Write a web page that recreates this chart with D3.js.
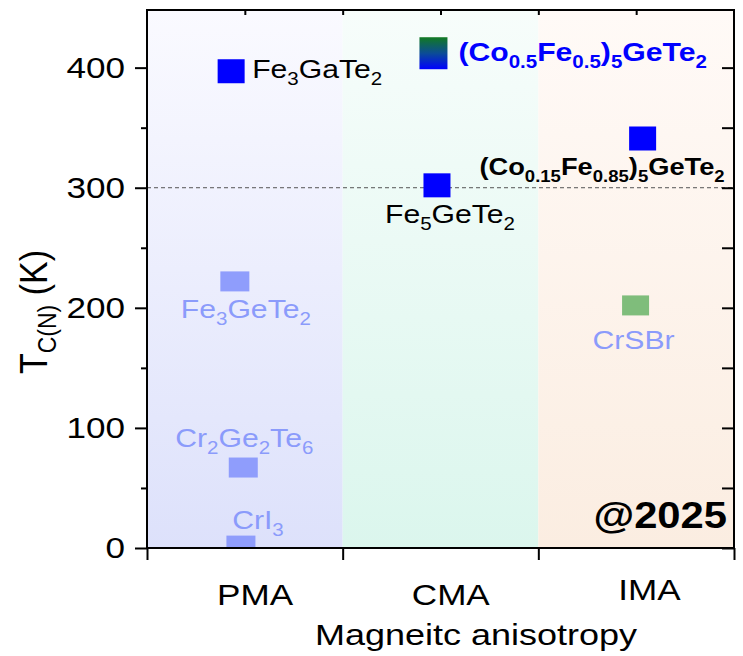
<!DOCTYPE html>
<meta charset="utf-8">
<style>
    body {
        margin: 0;
        background: #fff;
    }
    svg text {
        font-family: Arial, "Liberation Sans", sans-serif;
    }
</style>

<body>
    <script src="https://cdn.jsdelivr.net/npm/d3@7"></script>
    <script>
        // data
        var categories = ["PMA", "CMA", "IMA"];
        var materials = ["Fe_3GaTe_2", "(Co_{0.5}Fe_{0.5})_5GeTe_2", "Fe_5GeTe_2", "(Co_{0.15}Fe_{0.85})_5GeTe_2",
            "Fe_3GeTe_2", "Cr_2Ge_2Te_6", "CrI_3", "CrSBr"];
        // x on a numeric axis where PMA = [0,1], CMA = [1,2], IMA = [2,3]
        var xValues = [0.43, 1.464, 1.482, 2.533, 0.449, 0.492, 0.48, 2.497];
        var tcValues = [397, 412, 302, 341, 222, 67, 2, 202];
        var markerKind = ["strong", "grad", "strong", "strong", "faint", "faint", "faint", "green"];
        var yMajor = [0, 100, 200, 300, 400];
        var yMinor = [50, 150, 250, 350];
        var roomTemp = 300;

        // annotation layout (pixel offsets from the marker centre)
        var labelLayout = [
            { dx: 21, dy: 7, anchor: "start", style: "black" },
            { dx: 25, dy: 8, anchor: "start", style: "blueBold" },
            { dx: 13, dy: 38, anchor: "middle", style: "black" },
            { dx: 82, dy: 37, anchor: "end", style: "blackBold" },
            { dx: 11, dy: 37, anchor: "middle", style: "faint" },
            { dx: 1, dy: -21, anchor: "middle", style: "faint" },
            { dx: 17, dy: -17, anchor: "middle", style: "faint" },
            { dx: -2, dy: 44, anchor: "middle", style: "faint" }
        ];
        var labelStyles = {
            black: { size: 26, weight: "normal", color: "#000" },
            blueBold: { size: 26, weight: "bold", color: "#0000ff" },
            blackBold: { size: 23.5, weight: "bold", color: "#000" },
            faint: { size: 26, weight: "normal", color: "#8b9bfb" }
        };
        var markerStyles = {
            strong: { w: 27, h: 24, fill: "#0000ff" },
            grad: { w: 28, h: 32, fill: "url(#markGrad)" },
            faint: { w: 29, h: 20, fill: "#8f9dfc" },
            green: { w: 27, h: 20, fill: "#7fbd7b" }
        };
        var regionTop = ["#fafaff", "#f7fdfb", "#fffaf7"];
        var regionBottom = ["#dde1fb", "#dbf6ed", "#fbede1"];

        var width = 743,
            height = 656,
            margin = { top: 10, right: 9, bottom: 108, left: 147 },
            STRETCH = 1.16;

        var svg = d3.select("body").append("svg")
            .attr("width", width)
            .attr("height", height);

        var x = d3.scaleLinear().domain([0, 3]).range([margin.left, width - margin.right]);
        var y = d3.scaleLinear().domain([0, 448]).range([height - margin.bottom, margin.top]);

        var defs = svg.append("defs");
        categories.forEach(function (c, i) {
            var g = defs.append("linearGradient").attr("id", "bg" + i)
                .attr("x1", 0).attr("y1", 0).attr("x2", 0).attr("y2", 1);
            g.append("stop").attr("offset", 0).attr("stop-color", regionTop[i]);
            g.append("stop").attr("offset", 1).attr("stop-color", regionBottom[i]);
        });
        var mg = defs.append("linearGradient").attr("id", "markGrad")
            .attr("x1", 0).attr("y1", 0).attr("x2", 0).attr("y2", 1);
        mg.append("stop").attr("offset", 0).attr("stop-color", "#127a22");
        mg.append("stop").attr("offset", 0.5).attr("stop-color", "#0b4c96");
        mg.append("stop").attr("offset", 1).attr("stop-color", "#0000ff");
        defs.append("clipPath").attr("id", "plotClip").append("rect")
            .attr("x", x(0)).attr("y", y.range()[1])
            .attr("width", x(3) - x(0)).attr("height", y(0) - y.range()[1]);

        // background bands
        svg.append("g").selectAll("rect").data(categories).enter().append("rect")
            .attr("x", function (d, i) { return x(i); })
            .attr("y", y.range()[1])
            .attr("width", x(1) - x(0))
            .attr("height", y(0) - y.range()[1])
            .attr("fill", function (d, i) { return "url(#bg" + i + ")"; });

        // room temperature line
        svg.append("line")
            .attr("x1", x(0)).attr("x2", x(3))
            .attr("y1", y(roomTemp)).attr("y2", y(roomTemp))
            .attr("stroke", "#555").attr("stroke-width", 1)
            .attr("stroke-dasharray", "4,3");

        // text helpers: chemical formulas with "_" subscripts, horizontally stretched like the source
        function parseFormula(s) {
            var parts = [], i = 0, buf = "";
            while (i < s.length) {
                if (s[i] === "_") {
                    if (buf) { parts.push({ t: buf, sub: false }); buf = ""; }
                    if (s[i + 1] === "{") {
                        var j = s.indexOf("}", i);
                        parts.push({ t: s.slice(i + 2, j), sub: true });
                        i = j + 1;
                    } else {
                        parts.push({ t: s[i + 1], sub: true });
                        i += 2;
                    }
                } else {
                    buf += s[i];
                    i++;
                }
            }
            if (buf) parts.push({ t: buf, sub: false });
            return parts;
        }

        function formula(g, px, py, str, o) {
            var t = g.append("text")
                .attr("transform", "translate(" + px + "," + py + ") scale(" + (o.sx || STRETCH) + ",1)")
                .attr("text-anchor", o.anchor || "start")
                .attr("font-size", o.size)
                .attr("font-weight", o.weight || "normal")
                .attr("fill", o.color || "#000");
            var cur = 0;
            parseFormula(str).forEach(function (p) {
                var target = p.sub ? o.size * 0.27 : 0;
                t.append("tspan")
                    .attr("dy", target - cur)
                    .attr("font-size", p.sub ? o.size * 0.68 : o.size)
                    .text(p.t);
                cur = target;
            });
            return t;
        }

        // markers
        var plot = svg.append("g").attr("clip-path", "url(#plotClip)");
        plot.selectAll("rect").data(materials).enter().append("rect")
            .attr("x", function (d, i) { return x(xValues[i]) - markerStyles[markerKind[i]].w / 2; })
            .attr("y", function (d, i) { return y(tcValues[i]) - markerStyles[markerKind[i]].h / 2; })
            .attr("width", function (d, i) { return markerStyles[markerKind[i]].w; })
            .attr("height", function (d, i) { return markerStyles[markerKind[i]].h; })
            .attr("fill", function (d, i) { return markerStyles[markerKind[i]].fill; });

        // labels
        var labels = svg.append("g");
        materials.forEach(function (m, i) {
            var L = labelLayout[i], s = labelStyles[L.style];
            formula(labels, x(xValues[i]) + L.dx, y(tcValues[i]) + L.dy, m,
                { size: s.size, weight: s.weight, color: s.color, anchor: L.anchor });
        });

        formula(svg, 727, 528, "@2025", { size: 36, weight: "bold", anchor: "end" });

        // axes
        var left = svg.append("g").attr("transform", "translate(" + x(0) + ",0)")
            .call(d3.axisLeft(y).tickValues(yMajor).tickSize(12).tickPadding(10));
        left.selectAll("text")
            .attr("font-size", 30).attr("font-family", null).attr("fill", "#000")
            .attr("x", -22 / 1.17)
            .attr("transform", "scale(1.17,1)");
        svg.append("g").attr("transform", "translate(" + x(0) + ",0)")
            .call(d3.axisLeft(y).tickValues(yMinor).tickSize(6).tickFormat(""));
        svg.append("g").attr("transform", "translate(" + x(3) + ",0)")
            .call(d3.axisRight(y).tickValues(yMajor.concat(yMinor)).tickSize(-12).tickFormat(""));
        svg.append("g").attr("transform", "translate(0," + y(0) + ")")
            .call(d3.axisBottom(x).tickValues([0, 1, 2, 3]).tickSize(12).tickFormat(""));
        svg.append("g").attr("transform", "translate(0," + y.range()[1] + ")")
            .call(d3.axisTop(x).tickValues([0.5, 1, 1.5, 2, 2.5]).tickSize(-5).tickFormat(""));

        var cat = svg.append("g").attr("transform", "translate(0," + y(0) + ")")
            .call(d3.axisBottom(x).tickValues([0.55, 1.55, 2.55]).tickSize(0).tickPadding(36)
                .tickFormat(function (d, i) { return categories[i]; }));
        cat.select(".domain").remove();
        cat.selectAll("text")
            .attr("font-size", 30).attr("font-family", null).attr("fill", "#000")
            .attr("transform", function (d, i) { return (i === 2 ? "translate(3,-5) " : "") + "scale(1.17,1)"; });

        svg.selectAll(".domain").attr("stroke", "none");
        svg.selectAll(".tick line").attr("stroke", "#000").attr("stroke-width", 2);

        // frame
        svg.append("rect")
            .attr("x", x(0)).attr("y", y.range()[1])
            .attr("width", x(3) - x(0)).attr("height", y(0) - y.range()[1])
            .attr("fill", "none").attr("stroke", "#000").attr("stroke-width", 2);

        // axis titles
        formula(svg, 476, 645, "Magneitc anisotropy", { size: 30, anchor: "middle", sx: 1.2 });

        var yt = svg.append("text")
            .attr("transform", "translate(47,312) rotate(-90) scale(1,1.15)")
            .attr("text-anchor", "middle")
            .attr("font-size", 34);
        yt.append("tspan").text("T");
        yt.append("tspan").attr("dy", 8).attr("font-size", 23).text("C(N)");
        yt.append("tspan").attr("dy", -8).text(" (K)");
    </script>
</body>
